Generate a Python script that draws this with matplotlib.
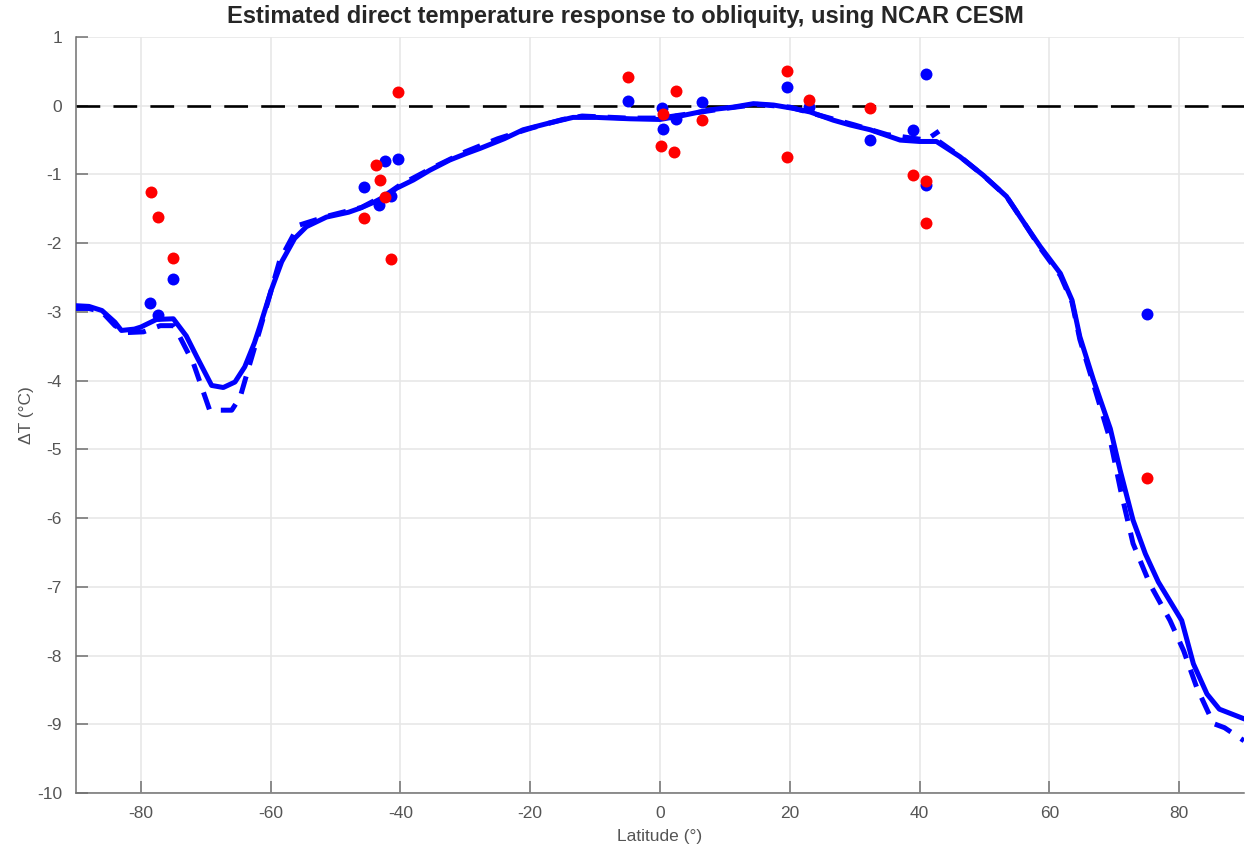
import matplotlib
matplotlib.use("Agg")
import matplotlib.pyplot as plt
import numpy as np

# ---- data ----
solid_lat = [-90, -88, -86, -84, -83, -81, -80, -77.6, -75, -73, -71.4, -69.1, -67.3, -65.5,
             -64, -62.5, -61.7, -59.9, -58.3, -56.3, -54.5, -51.4, -48, -46.2, -44, -42,
             -40.6, -38, -35.5, -32.4, -30, -27.7, -24, -21.1, -17, -13.4, -9.8, -4.6, 0,
             3.6, 7.7, 11.3, 14.4, 17.5, 20.6, 23.1, 26.7, 29.3, 32.4, 37, 40, 42.6, 46.2,
             49.8, 53.4, 56.5, 58.6, 61.7, 63.5, 64.7, 66.8, 69.4, 70.9, 72.9, 74.8, 76.8,
             80.4, 82.2, 84.3, 86.2, 90]
solid_dT = [-2.91, -2.92, -2.98, -3.15, -3.27, -3.25, -3.22, -3.11, -3.10, -3.35, -3.65, -4.07,
            -4.10, -4.02, -3.80, -3.45, -3.22, -2.68, -2.27, -1.93, -1.76, -1.62, -1.55, -1.49,
            -1.40, -1.30, -1.20, -1.08, -0.94, -0.79, -0.70, -0.62, -0.48, -0.35, -0.25, -0.17,
            -0.17, -0.19, -0.20, -0.14, -0.06, -0.02, 0.03, 0.01, -0.04, -0.09, -0.21, -0.28,
            -0.35, -0.50, -0.52, -0.52, -0.74, -1.01, -1.32, -1.76, -2.05, -2.44, -2.83, -3.36,
            -3.99, -4.70, -5.30, -6.03, -6.52, -6.93, -7.49, -8.12, -8.56, -8.78, -8.92]

dash_s_lat = [-90, -88, -86, -84, -82, -79.6, -77, -75, -74.5, -71.9, -69.4, -66, -64.7, -63.2,
              -61.7, -58.6, -55.7, -51, -46, -42, -40, -35, -30, -25, -20, -15, -12, -5, 0,
              5, 10, 15, 20, 25, 30, 35, 41, 43]
dash_s_dT = [-2.95, -2.95, -3.0, -3.2, -3.3, -3.29, -3.2, -3.2, -3.27, -3.75, -4.43, -4.43,
             -4.24, -3.75, -3.27, -2.25, -1.74, -1.6, -1.48, -1.28, -1.15, -0.9, -0.67, -0.48,
             -0.33, -0.2, -0.15, -0.18, -0.18, -0.11, -0.04, 0.02, -0.02, -0.15, -0.28, -0.42,
             -0.50, -0.37]

dash_n_lat = [43, 46, 50, 53.4, 56.5, 58.6, 61.7, 63.5, 64.7, 66.8, 69.4, 71, 72.9, 75.5,
              78.6, 80.7, 82.7, 85.3, 87, 90]
dash_n_dT = [-0.52, -0.72, -1.03, -1.32, -1.76, -2.07, -2.47, -2.86, -3.40, -4.05, -4.87, -5.6,
             -6.37, -6.96, -7.49, -7.93, -8.46, -8.99, -9.05, -9.24]

blue_lat = [-78.6, -77.4, -75.1, -45.6, -43.3, -42.4, -41.4, -40.4, -5.0, 0.26, 0.4, 2.5,
            6.5, 19.6, 23.0, 32.3, 39.0, 41.0, 41.0, 75.0]
blue_dT = [-2.87, -3.04, -2.52, -1.18, -1.45, -0.80, -1.32, -0.78, 0.07, -0.04, -0.34, -0.20,
           0.05, 0.27, -0.02, -0.50, -0.35, 0.46, -1.15, -3.03]

red_lat = [-78.5, -77.4, -75.1, -45.6, -43.7, -43.1, -42.4, -41.4, -40.4, -5.0, 0.5, 0.15,
           2.5, 2.2, 6.5, 19.5, 19.6, 23.0, 32.3, 39.0, 41.0, 41.0, 75.0]
red_dT = [-1.26, -1.62, -2.22, -1.64, -0.86, -1.08, -1.33, -2.23, 0.20, 0.42, -0.12, -0.59,
          0.22, -0.68, -0.21, 0.50, -0.74, 0.08, -0.04, -1.01, -1.09, -1.71, -5.42]

xticks = [-80, -60, -40, -20, 0, 20, 40, 60, 80]
yticks = list(range(-10, 2))

title = "Estimated direct temperature response to obliquity, using NCAR CESM"

# ---- figure ----
plt.rcParams['font.family'] = ['Liberation Sans', 'DejaVu Sans']
plt.rcParams['axes.unicode_minus'] = False
W, H = 1248, 847
fig = plt.figure(figsize=(W / 100, H / 100), dpi=100)
ax = fig.add_axes([76 / W, 1 - 793 / H, (1244 - 76) / W, (793 - 37) / H])

grid_c = '#e6e6e6'
axis_c = '#707070'
text_c = '#555555'

ax.axhline(0, color='black', lw=1.9, dashes=(9, 5), zorder=2)
ax.plot(solid_lat, solid_dT, color='#0000ff', lw=3.6, zorder=3, solid_joinstyle='round')
ax.plot(dash_s_lat, dash_s_dT, color='#0000ff', lw=3.6, dashes=(3.6, 2.4), zorder=3)
ax.plot(dash_n_lat, dash_n_dT, color='#0000ff', lw=3.6, dashes=(3.6, 2.4), zorder=3)
ax.plot(blue_lat, blue_dT, 'o', color='#0000ff', ms=8.6, mew=0, zorder=4)
ax.plot(red_lat, red_dT, 'o', color='#ff0000', ms=8.6, mew=0, zorder=5)

ax.set_xlim(-90, 90)
ax.set_ylim(-10, 1)
ax.set_xticks(xticks)
ax.set_yticks(yticks)
ax.grid(True, color=grid_c, lw=1.1, zorder=0)
ax.set_axisbelow(True)

for s in ['top', 'right']:
    ax.spines[s].set_visible(False)
for s in ['left', 'bottom']:
    ax.spines[s].set_color(axis_c)
    ax.spines[s].set_linewidth(1.1)

ax.tick_params(direction='in', length=8.5, width=1.1, color=axis_c, labelcolor=text_c,
               labelsize=12.5)
ax.tick_params(axis='y', pad=10)
ax.tick_params(axis='x', pad=9)

ax.set_xlabel('Latitude (°)', fontsize=12.5, color=text_c)
ax.set_ylabel('ΔT (°C)', fontsize=12.5, color=text_c)
ax.xaxis.set_label_coords(0.5, -0.047)
ax.yaxis.set_label_coords(-0.036, 0.5)

fig.text(625 / W, 1 - 17 / H, title, ha='center', va='center', fontsize=17,
         fontweight='bold', color='#262626')

fig.savefig('out.png', dpi=100)
